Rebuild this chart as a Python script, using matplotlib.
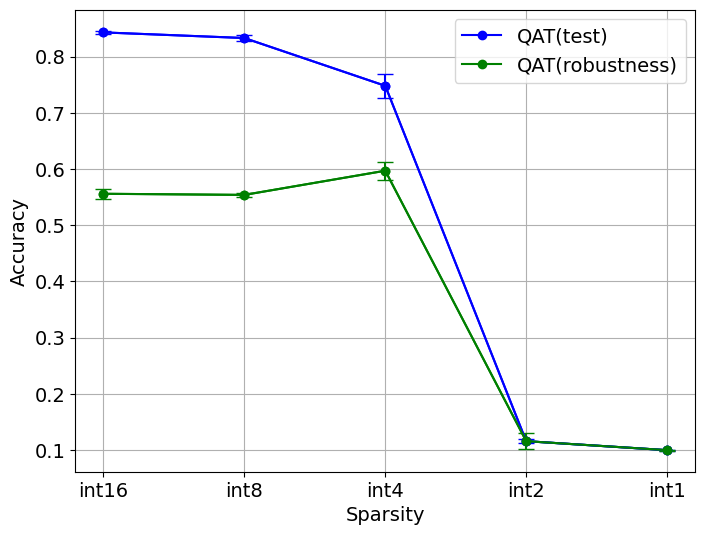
import matplotlib
matplotlib.use('Agg')
import matplotlib.pyplot as plt

# Données
precisions = ['int16', 'int8', 'int4', 'int2', 'int1']
test_moy = [0.843, 0.833, 0.748, 0.116, 0.100]
test_err = [0.003, 0.005, 0.021, 0.004, 0.001]
robuste_moy = [0.556, 0.554, 0.597, 0.116, 0.100]
robuste_err = [0.009, 0.004, 0.016, 0.0145, 0.001]

fig, ax = plt.subplots(figsize=(8, 6))

# Courbes (pour la légende) puis barres d'erreur
ax.plot(precisions, test_moy, '-o', color='blue', label='QAT(test)')
ax.errorbar(precisions, test_moy, yerr=test_err, fmt='-o', color='blue', capsize=6)
ax.plot(precisions, robuste_moy, '-o', color='green', label='QAT(robustness)')
ax.errorbar(precisions, robuste_moy, yerr=robuste_err, fmt='-o', color='green', capsize=6)

ax.set_xlabel('Sparsity', fontsize=14)
ax.set_ylabel('Accuracy', fontsize=14)
ax.tick_params(labelsize=14)
ax.legend(fontsize=14)
ax.grid(True)

plt.savefig('out.png', dpi=100, bbox_inches='tight')
